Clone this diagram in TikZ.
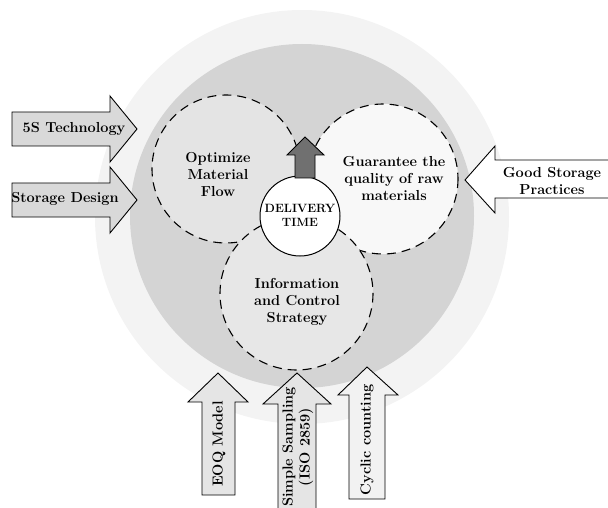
\documentclass[tikz,border=0pt]{standalone}
\usepackage{fontspec}
\begin{document}
\begin{tikzpicture}[x=1pt,y=-1pt,line join=miter]
\definecolor{outerc}{gray}{0.953}
\definecolor{innerc}{gray}{0.83}
\definecolor{optc}{gray}{0.895}
\definecolor{infoc}{gray}{0.905}
\definecolor{guarc}{gray}{0.972}
\definecolor{leftc}{gray}{0.85}
\definecolor{botc}{gray}{0.9}
\definecolor{cycc}{gray}{0.95}
\definecolor{darkc}{gray}{0.44}
\tikzset{
  lbl/.style={font=\bfseries\fontsize{14.5}{17}\selectfont,align=center,inner sep=0pt},
  dcirc/.style={draw=black,line width=1.1pt,dash pattern=on 9pt off 6pt},
  arrowbox/.style={draw=black,line width=0.9pt},
}
\useasboundingbox (0,0) rectangle (608,508);
% background discs
\fill[outerc] (302,217) circle (207);
\fill[innerc] (302,216) circle (172);
% dashed circles
\filldraw[fill=optc,dcirc] (226,169) circle (74);
\filldraw[fill=guarc,dcirc] (383,179) circle (75);
\filldraw[fill=infoc,dcirc] (296.5,293.5) circle (76.5);
% delivery time circle
\node[circle,draw=black,fill=white,line width=1pt,minimum size=80pt,inner sep=0pt] (dt) at (300,216) {};
\node[font=\bfseries\fontsize{12}{14}\selectfont,align=center,inner sep=0pt] (dtl) at (300,215) {DELIVERY\\TIME};
% dark arrow
\filldraw[fill=darkc,arrowbox] (295,178) -- (295,155) -- (287,155) -- (305,137) -- (324,155) -- (315,155) -- (315,178) -- cycle;
% left arrows
\filldraw[fill=leftc,arrowbox] (12,112) -- (110,112) -- (110,96) -- (137,129) -- (110,162) -- (110,146) -- (12,146) -- cycle;
\filldraw[fill=leftc,arrowbox] (12,183) -- (110,183) -- (110,167) -- (137,200) -- (110,233) -- (110,217) -- (12,217) -- cycle;
% right arrow
\filldraw[fill=white,arrowbox] (615,160) -- (495,160) -- (495,146) -- (465,180) -- (495,213) -- (495,198) -- (615,198) -- cycle;
% bottom arrows
\filldraw[fill=botc,arrowbox] (202,495) -- (202,402) -- (188,402) -- (218,373) -- (248,402) -- (235,402) -- (235,495) -- cycle;
\filldraw[fill=botc,arrowbox] (278,515) -- (278,404) -- (263,404) -- (297,373) -- (331,404) -- (316,404) -- (316,515) -- cycle;
\filldraw[fill=cycc,arrowbox] (349,499) -- (349,395) -- (338,395) -- (367,367) -- (398,395) -- (385,395) -- (385,499) -- cycle;
% labels
\node[lbl] (opt) at (218,174) {Optimize\\Material\\Flow};
\node[lbl] (guar) at (394,178) {Guarantee the\\quality of raw\\materials};
\node[lbl] (info) at (297,302) {Information\\and Control\\Strategy};
\node[lbl] (s5) at (74,129) {5S Technology};
\node[lbl] (sd) at (65,199) {Storage Design};
\node[lbl] (gsp) at (552,181) {Good Storage\\Practices};
\node[lbl,rotate=90] (eoq) at (219,444) {EOQ Model};
\node[lbl,rotate=90] (ss) at (298,447) {Simple Sampling\\(ISO 2859)};
\node[lbl,rotate=90] (cc) at (367,440) {Cyclic counting};
\end{tikzpicture}
\end{document}
